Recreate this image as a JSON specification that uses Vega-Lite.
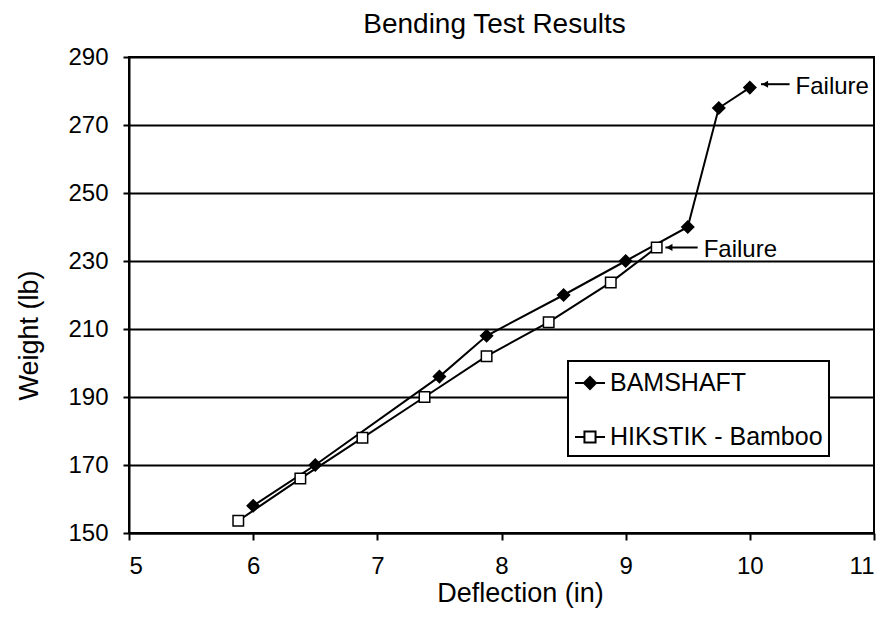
{
  "$schema": "https://vega.github.io/schema/vega-lite/v6.json",
  "width": 745,
  "height": 476,
  "autosize": {"type": "none"},
  "padding": {"left": 129, "top": 57, "right": 13, "bottom": 87},
  "background": "white",
  "title": {
    "text": "Bending Test Results",
    "fontSize": 28,
    "font": "Liberation Sans",
    "fontWeight": "normal",
    "color": "black",
    "frame": "group",
    "anchor": "middle",
    "dx": -7,
    "offset": 6
  },
  "datasets": {
    "series": [
      {"series": "BAMSHAFT", "deflection": 6.0, "weight": 158},
      {"series": "BAMSHAFT", "deflection": 6.5, "weight": 170},
      {"series": "BAMSHAFT", "deflection": 7.5, "weight": 196},
      {"series": "BAMSHAFT", "deflection": 7.88, "weight": 208},
      {"series": "BAMSHAFT", "deflection": 8.5, "weight": 220},
      {"series": "BAMSHAFT", "deflection": 9.0, "weight": 230},
      {"series": "BAMSHAFT", "deflection": 9.5, "weight": 240},
      {"series": "BAMSHAFT", "deflection": 9.75, "weight": 275},
      {"series": "BAMSHAFT", "deflection": 10.0, "weight": 281},
      {"series": "HIKSTIK - Bamboo", "deflection": 5.88, "weight": 153.6},
      {"series": "HIKSTIK - Bamboo", "deflection": 6.38, "weight": 166},
      {"series": "HIKSTIK - Bamboo", "deflection": 6.88, "weight": 178},
      {"series": "HIKSTIK - Bamboo", "deflection": 7.38, "weight": 190},
      {"series": "HIKSTIK - Bamboo", "deflection": 7.88, "weight": 202},
      {"series": "HIKSTIK - Bamboo", "deflection": 8.38, "weight": 212},
      {"series": "HIKSTIK - Bamboo", "deflection": 8.88, "weight": 223.7},
      {"series": "HIKSTIK - Bamboo", "deflection": 9.25, "weight": 234}
    ],
    "notes": [
      {"deflection": 10.09, "deflection2": 10.32, "weight": 282, "label": "Failure"},
      {"deflection": 9.32, "deflection2": 9.58, "weight": 234, "label": "Failure"}
    ]
  },
  "encoding": {
    "x": {
      "field": "deflection",
      "type": "quantitative",
      "scale": {"domain": [5, 11], "nice": false, "zero": false},
      "axis": {
        "title": "Deflection (in)",
        "values": [5, 6, 7, 8, 9, 10, 11],
        "grid": false,
        "tickSize": 7,
        "labelPadding": 14,
        "titlePadding": 2,
        "titleX": 391,
        "titleAlign": "center"
      }
    },
    "y": {
      "field": "weight",
      "type": "quantitative",
      "scale": {"domain": [150, 290], "nice": false, "zero": false},
      "axis": {
        "title": "Weight (lb)",
        "values": [150, 170, 190, 210, 230, 250, 270, 290],
        "grid": true,
        "gridColor": "black",
        "gridWidth": 2,
        "gridOpacity": 1,
        "tickSize": 6,
        "labelPadding": 15,
        "titlePadding": 24,
        "titleY": 278
      }
    }
  },
  "layer": [
    {
      "data": {"name": "series"},
      "mark": {"type": "line", "color": "black", "strokeWidth": 2},
      "encoding": {"detail": {"field": "series"}}
    },
    {
      "data": {"name": "series"},
      "mark": {"type": "point", "filled": false, "stroke": "black", "strokeWidth": 1.5, "opacity": 1},
      "encoding": {
        "shape": {"condition": {"test": "datum.series === 'BAMSHAFT'", "value": "diamond"}, "value": "square"},
        "fill": {"condition": {"test": "datum.series === 'BAMSHAFT'", "value": "black"}, "value": "white"},
        "size": {"condition": {"test": "datum.series === 'BAMSHAFT'", "value": 144}, "value": 110}
      }
    },
    {
      "data": {"name": "series"},
      "transform": [{"filter": {"field": "series", "equal": "__legend_only__"}}],
      "mark": {"type": "point", "filled": true, "strokeWidth": 2, "opacity": 1},
      "encoding": {
        "shape": {
          "field": "series",
          "type": "nominal",
          "scale": {
            "domain": ["BAMSHAFT", "HIKSTIK - Bamboo"],
            "range": [
              "M-1,0H1M-0.4,0L0,-0.4L0.4,0L0,0.4Z",
              "M-1,0H-0.37M0.37,0H1M-0.37,-0.37H0.37V0.37H-0.37Z"
            ]
          },
          "legend": {"title": null}
        },
        "fill": {
          "field": "series",
          "type": "nominal",
          "scale": {"domain": ["BAMSHAFT", "HIKSTIK - Bamboo"], "range": ["black", "white"]},
          "legend": {"title": null}
        },
        "stroke": {
          "field": "series",
          "type": "nominal",
          "scale": {"domain": ["BAMSHAFT", "HIKSTIK - Bamboo"], "range": ["black", "black"]},
          "legend": {"title": null}
        }
      }
    },
    {
      "data": {"name": "notes"},
      "mark": {"type": "rule", "color": "black", "strokeWidth": 2},
      "encoding": {"x2": {"field": "deflection2"}}
    },
    {
      "data": {"name": "notes"},
      "mark": {"type": "point", "shape": "triangle-left", "filled": true, "color": "black", "size": 50, "xOffset": 4, "opacity": 1},
      "encoding": {}
    },
    {
      "data": {"name": "notes"},
      "mark": {"type": "text", "align": "left", "baseline": "middle", "dx": 6, "dy": 3, "fontSize": 24, "font": "Liberation Sans", "color": "black"},
      "encoding": {
        "x": {"field": "deflection2", "type": "quantitative"},
        "text": {"field": "label"}
      }
    }
  ],
  "config": {
    "font": "Liberation Sans",
    "view": {"stroke": "black", "strokeWidth": 2},
    "axis": {
      "domainColor": "black",
      "domainWidth": 2,
      "tickColor": "black",
      "tickWidth": 2,
      "labelColor": "black",
      "labelFontSize": 24,
      "labelFont": "Liberation Sans",
      "titleFont": "Liberation Sans",
      "titleFontSize": 27,
      "titleFontWeight": "normal",
      "titleColor": "black"
    },
    "legend": {
      "orient": "none",
      "legendX": 439,
      "legendY": 304,
      "strokeColor": "black",
      "strokeWidth": 2,
      "fillColor": "white",
      "padding": 6,
      "labelFontSize": 25,
      "labelFont": "Liberation Sans",
      "labelColor": "black",
      "labelOffset": 4,
      "labelLimit": 400,
      "rowPadding": 25,
      "symbolSize": 900,
      "symbolStrokeWidth": 2,
      "symbolOpacity": 1,
      "cornerRadius": 0
    }
  }
}
